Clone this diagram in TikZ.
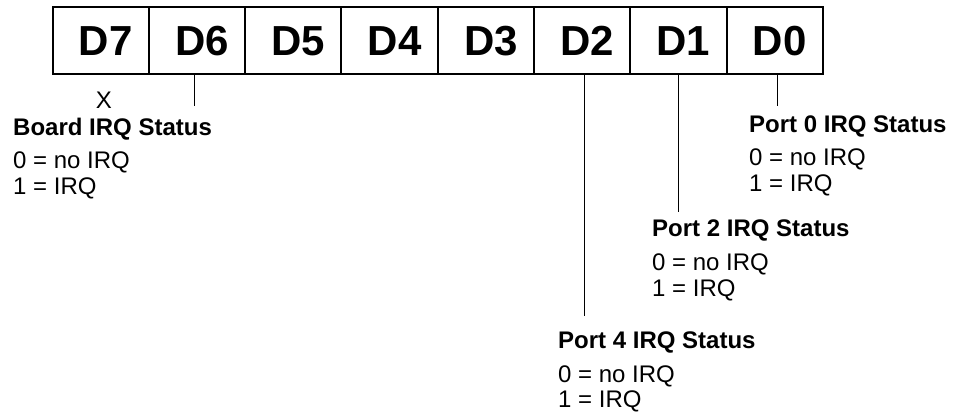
\documentclass[tikz,border=0pt]{standalone}
\usepackage{fontspec}
\setmainfont{Liberation Sans}
\begin{document}
\begin{tikzpicture}[x=1pt,y=-1pt,
  bitcell/.style={draw, line width=2pt, minimum width=96.3pt, minimum height=67pt,
    inner sep=0pt},
  bitlabel/.style={anchor=base, inner sep=0pt, font=\fontsize{42}{44}\selectfont\bfseries},
  title/.style={anchor=base west, inner sep=0pt, font=\fontsize{24}{26}\selectfont\bfseries},
  body/.style={anchor=base west, inner sep=0pt, font=\fontsize{24}{26}\selectfont},
  lead/.style={line width=1pt}]
\useasboundingbox (0,0) rectangle (953,416);

% register bits D7 ... D0
\foreach \lbl [count=\i from 0] in {D7,D6,D5,D4,D3,D2,D1,D0} {
  \node[bitcell] (c\i) at ({52.5+96.3*\i+48.15},40.5) {};
  \node[bitlabel] (l\i) at ({52.5+96.3*\i+48.15+5},55) {\lbl};
}

% D7: unused
\node[body, anchor=base] (x7) at (104,108) {X};

% D6: board IRQ status
\node[title] (t6) at (13,135) {Board IRQ Status};
\node[body] (a6) at (13,168) {0 = no IRQ};
\node[body] (b6) at (13,194) {1 = IRQ};
\coordinate (e6) at (194,106);
\draw[lead] (c1.south -| e6) -- (e6);

% D0: port 0
\node[title] (t0) at (749,132) {Port 0 IRQ Status};
\node[body] (a0) at (749,165) {0 = no IRQ};
\node[body] (b0) at (749,191) {1 = IRQ};
\coordinate (e0) at (777,106);
\draw[lead] (c7.south -| e0) -- (e0);

% D1: port 2
\node[title] (t1) at (652,236) {Port 2 IRQ Status};
\node[body] (a1) at (652,270) {0 = no IRQ};
\node[body] (b1) at (652,296) {1 = IRQ};
\coordinate (e1) at (678,212);
\draw[lead] (c6.south -| e1) -- (e1);

% D2: port 4
\node[title] (t2) at (558,348) {Port 4 IRQ Status};
\node[body] (a2) at (558,382) {0 = no IRQ};
\node[body] (b2) at (558,407) {1 = IRQ};
\coordinate (e2) at (584,316);
\draw[lead] (c5.south -| e2) -- (e2);
\end{tikzpicture}
\end{document}
